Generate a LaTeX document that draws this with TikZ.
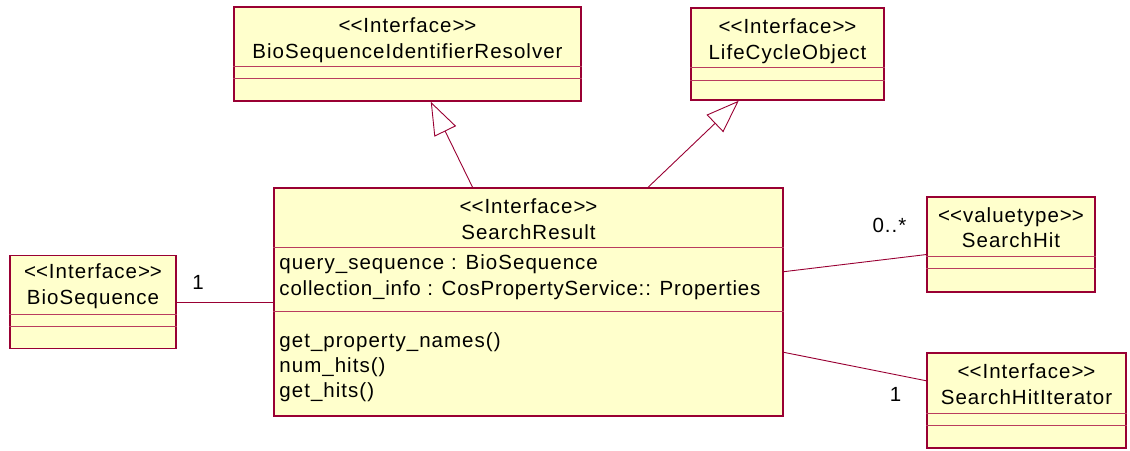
\documentclass[tikz,border=0pt]{standalone}
\usepackage{fontspec}
\setmainfont{Liberation Sans}
\newfontfamily\umlfont[LetterSpace=5]{Liberation Sans}
\newfontfamily\umlfonttight[LetterSpace=4]{Liberation Sans}
\usetikzlibrary{calc,arrows.meta}

\definecolor{umlborder}{RGB}{153,0,51}
\definecolor{umlfill}{RGB}{255,255,204}
\definecolor{umldivider}{RGB}{185,60,95}

% stereotype brackets, kept as plain angle brackets
\newcommand\stereo[1]{<\kern0pt<#1>\kern0pt>}

\tikzset{
  classbox/.style={draw=umlborder, fill=umlfill, line width=1.5pt, rectangle, inner sep=0pt},
  divider/.style={draw=umldivider, line width=0.9pt},
  txt/.style={anchor=base, inner sep=0pt, font=\umlfont\fontsize{20.5}{24}\selectfont, text=black},
  txtleft/.style={txt, anchor=base west},
  link/.style={draw=umlborder, line width=0.9pt},
  realizes/.style={link, -{Triangle[open, length=33pt, width=24pt]}},
}

% two compartment rules below the name compartment of a class box
\newcommand\classrules[3]{%
  \draw[divider] ($(#1.north west)+(0,#2)$) -- ($(#1.north east)+(0,#2)$);
  \draw[divider] ($(#1.north west)+(0,#3)$) -- ($(#1.north east)+(0,#3)$);
}

\begin{document}
\begin{tikzpicture}[x=1pt, y=-1pt]
\useasboundingbox (0,0) rectangle (1130,450);

% class boxes
\node[classbox, minimum width=347pt, minimum height=94pt] (res) at (407.5,54) {};
\node[classbox, minimum width=193pt, minimum height=92pt] (lco) at (787.5,54) {};
\node[classbox, minimum width=509pt, minimum height=228pt] (sr) at (528.5,302) {};
\node[classbox, minimum width=166pt, minimum height=93pt] (bs) at (93,302) {};
\node[classbox, minimum width=168pt, minimum height=95pt] (sh) at (1011,244.5) {};
\node[classbox, minimum width=199pt, minimum height=95pt] (shi) at (1026.5,400.5) {};

\classrules{res}{60}{72}
\classrules{lco}{60}{73}
\classrules{sr}{60}{124}
\classrules{bs}{60}{72}
\classrules{sh}{60}{72}
\classrules{shi}{61}{73}

% BioSequenceIdentifierResolver
\node[txt] (res-st) at ($(res.north)+(0,26)$) {\stereo{Interface}};
\node[txt] (res-nm) at ($(res.north)+(0,52)$) {BioSequenceIdentifierResolver};

% LifeCycleObject
\node[txt] (lco-st) at ($(lco.north)+(0,26)$) {\stereo{Interface}};
\node[txt] (lco-nm) at ($(lco.north)+(0,52)$) {LifeCycleObject};

% SearchResult
\node[txt] (sr-st) at ($(sr.north)+(0,26)$) {\stereo{Interface}};
\node[txt] (sr-nm) at ($(sr.north)+(0,52)$) {SearchResult};
\node[txtleft] (sr-a1) at ($(sr.north west)+(6,82)$) {query\_sequence : BioSequence};
\node[txtleft, font=\umlfonttight\fontsize{20.5}{24}\selectfont] (sr-a2) at ($(sr.north west)+(6,108)$) {collection\_info : CosPropertyService:: Properties};
\node[txtleft] (sr-o1) at ($(sr.north west)+(6,160)$) {get\_property\_names()};
\node[txtleft] (sr-o2) at ($(sr.north west)+(6,185)$) {num\_hits()};
\node[txtleft] (sr-o3) at ($(sr.north west)+(6,210)$) {get\_hits()};

% BioSequence
\node[txt] (bs-st) at ($(bs.north)+(0,24)$) {\stereo{Interface}};
\node[txt] (bs-nm) at ($(bs.north)+(0,50)$) {BioSequence};

% SearchHit
\node[txt] (sh-st) at ($(sh.north)+(0,26)$) {\stereo{valuetype}};
\node[txt] (sh-nm) at ($(sh.north)+(0,51)$) {SearchHit};

% SearchHitIterator
\node[txt] (shi-st) at ($(shi.north)+(0,26)$) {\stereo{Interface}};
\node[txt] (shi-nm) at ($(shi.north)+(0,52)$) {SearchHitIterator};

% realizations
\draw[realizes] (sr) -- (res);
\draw[realizes] (sr) -- (lco);

% associations
\draw[link] (bs) -- (sr);
\draw[link] (sr) -- (sh);
\draw[link] (sr) -- (shi);

% multiplicities
\node[txt] (m-bs) at (198,289) {1};
\node[txt] (m-sh) at (889.5,232) {0..*};
\node[txt] (m-shi) at (895.5,401) {1};
\end{tikzpicture}
\end{document}
